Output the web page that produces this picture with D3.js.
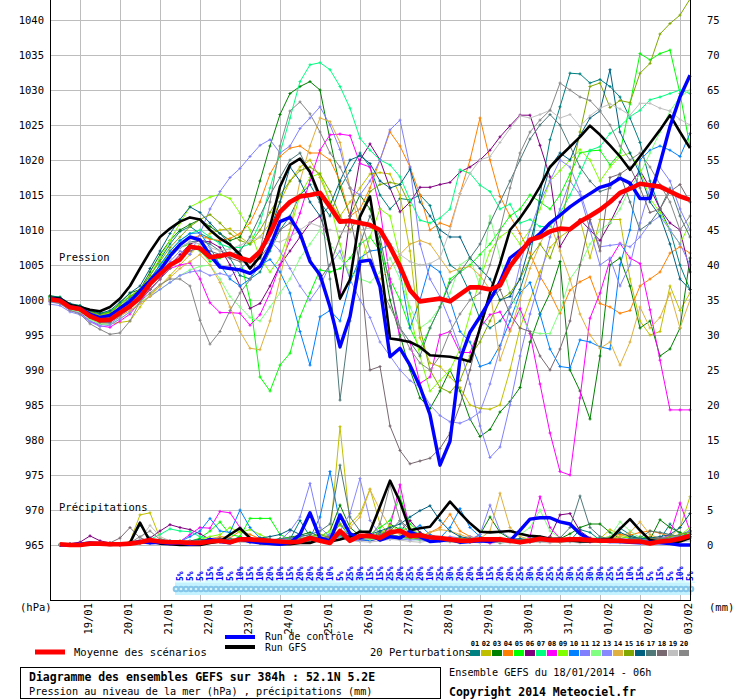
<!DOCTYPE html>
<html><head><meta charset="utf-8">
<script src="https://cdn.jsdelivr.net/npm/d3@7"></script>
<style>
body{margin:0;background:#fff}
svg{display:block}
text{font-family:"DejaVu Sans Mono","Liberation Mono",monospace;fill:#000}
</style>
</head><body>
<svg id="chart" width="740" height="700"></svg>
<script>
// ---------------- DATA ----------------
const dateLabels = ["19/01","20/01","21/01","22/01","23/01","24/01","25/01","26/01","27/01","28/01","29/01","30/01","31/01","01/02","02/02","03/02"];
const dateHours = [18,42,66,90,114,138,162,186,210,234,258,282,306,330,354,378];
const pressureTicks = [965,970,975,980,985,990,995,1000,1005,1010,1015,1020,1025,1030,1035,1040];
const precipTicks = [0,5,10,15,20,25,30,35,40,45,50,55,60,65,70,75];
const memberIds = ["01","02","03","04","05","06","07","08","09","10","11","12","13","14","15","16","17","18","19","20"];
const memberColors = ["#008080","#c0c000","#008000","#ff8000","#00ff00","#800080","#00ff80","#ff00ff","#80ff00","#0080ff","#8080ff","#80ff80","#8888ff","#e0b040","#80a800","#006080","#507878","#786870","#c0c0c0","#888888"];
const snowPct = [5,5,5,15,10,5,10,15,10,20,10,15,20,20,20,10,5,25,30,15,15,25,20,25,20,10,25,30,20,20,10,15,20,20,25,30,20,25,25,30,25,30,30,25,15,10,15,5,15,5,10,5];
const snowStartHour = 78;

// Pressure (hPa), every 6h from 18/01 06h (65 values)
const meanP = [1000.1,999.9,998.95,998.7,997.7,997.1,997.2,998.2,999.1,
 1000.4,1002.3,1003.7,1005.0,1005.8,1007.6,1007.4,1006.1,1006.3,1006.6,1006.0,1005.6,
 1006.9,1009.5,1012.6,1014.0,1014.8,1015.0,1015.3,1013.3,1011.2,1011.3,1011.0,1010.7,
 1010.0,1007.6,1004.8,1001.4,999.8,1000.0,1000.2,999.8,1000.8,1001.8,1001.8,1001.5,
 1002.1,1004.8,1006.7,1008.6,1009.0,1009.8,1010.2,1010.1,1011.2,1012.0,1012.9,1014.0,
 1015.3,1015.9,1016.6,1016.4,1016.2,1015.5,1014.8,1014.3];
const ctrlP = [1000.2,1000.0,999.0,998.8,998.0,997.5,997.8,998.8,999.8,
 1001.3,1002.8,1004.3,1006.3,1007.9,1009.0,1008.6,1006.4,1004.7,1004.5,1004.3,1003.8,
 1004.8,1007.6,1011.2,1011.8,1009.5,1005.5,1003.6,999.0,993.3,997.6,1005.5,1005.7,
 1001.9,991.9,993.1,990.7,987.6,983.6,976.4,979.8,991.5,995.4,997.6,1000.0,
 1002.6,1006.0,1007.1,1008.3,1009.5,1011.0,1012.1,1013.3,1014.3,1015.2,1016.1,1016.5,
 1017.4,1016.7,1014.5,1014.5,1019.5,1024.8,1029.0,1032.1];
const gfsP = [1000.3,1000.2,999.3,999.0,998.6,998.4,999.0,1000.2,1002.0,
 1004.5,1006.9,1009.0,1010.2,1011.2,1011.8,1011.5,1010.0,1008.8,1007.9,1006.5,1004.5,
 1006.2,1010.5,1016.2,1019.3,1020.2,1018.3,1014.8,1007.6,1000.2,1002.9,1011.9,1014.8,
 1006.0,994.5,994.3,994.0,993.3,992.1,992.0,991.9,991.6,991.2,996.0,1001.0,
 1005.2,1010.0,1011.7,1013.8,1016.2,1019.0,1020.5,1021.9,1023.3,1024.9,1023.6,1022.1,
 1020.5,1018.6,1020.5,1022.4,1024.3,1026.4,1024.0,1021.7];

const pert01P = [1000.4,1000.3,999.2,999.0,998.3,997.8,997.9,999.0,1000.3,
 1001.5,1003.5,1005.8,1008.0,1009.8,1010.5,1009.5,1008.8,1008.3,1006.0,1003.5,1003.0,
 1004.0,1007.0,1010.0,1012.0,1015.0,1016.5,1014.0,1012.0,1016.0,1018.5,1021.0,1019.0,
 1015.0,1013.0,1014.5,1014.3,1015.0,1013.5,1009.0,1005.0,1004.0,1001.0,997.3,996.0,
 997.0,999.0,1001.5,1006.0,1015.0,1022.9,1027.6,1032.4,1032.3,1031.0,1031.5,1030.5,
 1029.0,1026.0,1022.5,1017.0,1013.0,1010.0,1005.0,1001.5];
const pert02P = [1000.0,999.8,998.8,998.4,997.3,996.6,996.6,996.8,997.0,
 999.0,1000.8,1002.0,1003.5,1005.0,1006.5,1008.0,1009.5,1010.0,1010.2,1009.0,1008.0,
 1009.0,1011.0,1014.0,1017.0,1019.0,1020.0,1017.5,1014.0,1012.0,1014.0,1016.0,1018.0,
 1018.2,1018.0,1015.0,1007.0,994.6,991.0,990.5,989.0,987.5,985.0,984.5,984.4,
 985.0,990.0,996.0,1000.0,1004.0,1007.5,1009.0,1010.0,1011.5,1006.0,1011.5,1011.5,
 1011.5,1003.0,997.0,995.0,995.5,1002.0,998.5,1001.0];
const pert03P = [1000.5,1000.2,999.3,999.0,998.4,998.0,998.3,999.5,1001.0,
 1001.5,1004.0,1006.5,1008.5,1010.0,1010.8,1011.5,1010.5,1009.5,1008.5,1009.0,1012.0,
 1017.0,1022.0,1026.5,1029.5,1030.5,1031.2,1030.0,1022.9,1016.2,1012.0,1015.0,1013.0,
 1008.0,1000.0,995.0,990.0,986.0,984.5,987.0,990.0,987.0,983.0,980.5,981.5,
 984.0,985.5,987.5,994.0,998.0,1001.0,1005.5,990.0,987.0,983.0,992.0,1005.0,
 1006.0,1002.0,996.0,997.0,992.0,993.0,996.0,1006.0];
const pert04P = [1000.2,1000.0,999.1,998.8,997.9,997.4,997.5,998.6,999.8,
 1001.0,1003.0,1005.0,1006.8,1008.0,1008.8,1009.2,1008.7,1008.5,1008.8,1009.5,1011.0,
 1014.0,1018.0,1020.5,1021.7,1022.0,1021.0,1021.0,1020.0,1017.0,1012.0,1013.0,1016.0,
 1020.0,1024.0,1022.0,1019.0,1015.0,1010.0,1011.0,1010.5,1015.2,1020.0,1026.0,1020.0,
 1014.8,1012.0,1009.5,1006.7,1003.4,1001.0,998.1,1001.4,1002.6,1003.3,999.5,999.0,
 998.1,998.5,1002.0,1003.0,1004.0,1006.7,1007.6,1006.7];
const pert05P = [1000.6,1000.4,999.4,999.2,998.5,998.1,998.3,999.4,1000.6,
 1001.0,1003.0,1005.0,1006.5,1007.5,1008.0,1007.0,1005.5,1006.0,1006.5,1006.0,1000.0,
 989.0,987.0,990.7,992.4,997.6,1001.0,1004.3,1004.0,1004.5,1006.0,1008.0,1009.0,
 1007.0,1003.0,1000.0,996.0,993.0,996.0,999.0,1003.0,1004.0,1005.0,1006.5,1008.0,
 1010.0,1012.0,1013.0,1015.0,1014.0,1013.0,1015.0,1018.0,1021.0,1021.3,1021.4,1019.3,
 1021.0,1028.0,1035.2,1034.3,1035.2,1035.7,1029.5,1021.9];
const pert06P = [999.9,999.7,998.7,998.4,997.4,996.9,996.9,997.8,998.8,
 1000.0,1001.5,1003.0,1005.0,1006.5,1008.0,1008.5,1008.3,1007.5,1005.0,1002.0,998.8,
 999.5,1002.0,1005.0,1007.0,1009.0,1011.0,1012.0,1008.0,1000.5,1012.0,1020.0,1022.3,
 1020.0,1016.0,1012.6,1014.0,1016.1,1016.1,1016.5,1016.8,1018.3,1019.0,1020.0,1021.4,
 1023.3,1024.9,1026.4,1026.4,1022.1,1017.6,1007.6,1010.0,1011.5,1010.0,1008.5,1011.0,
 1014.0,1016.5,1018.5,1016.0,1013.0,1011.0,1010.0,1004.0];
const pert07P = [1000.3,1000.1,999.0,998.8,997.8,997.3,997.5,998.6,999.8,
 1001.0,1003.0,1005.0,1007.0,1008.5,1009.5,1010.0,1009.0,1008.0,1007.5,1007.5,1008.0,
 1011.0,1016.0,1021.0,1026.0,1031.2,1033.6,1033.9,1032.9,1030.5,1027.4,1023.1,1021.4,
 1020.0,1019.3,1017.6,1014.3,1011.4,1011.0,1011.7,1013.0,1018.6,1018.1,1016.4,1015.5,
 1013.0,1013.7,1011.0,1011.5,1010.5,1010.5,1012.4,1015.0,1018.1,1021.4,1021.9,1023.8,
 1024.8,1026.2,1027.1,1028.6,1029.0,1029.5,1030.0,1029.5];
const pert08P = [999.8,999.6,998.5,998.2,997.0,996.3,996.1,997.0,998.0,
 999.8,1001.5,1003.0,1004.5,1005.0,1005.3,1003.0,999.6,998.2,998.2,998.1,996.4,
 997.9,1001.0,1005.0,1008.6,1012.4,1017.1,1021.4,1023.6,1023.7,1023.5,1019.5,1019.0,
 1013.0,1003.0,994.3,994.0,988.1,989.0,995.0,995.5,992.5,992.5,996.0,997.9,
 998.3,995.7,998.8,995.2,988.0,981.0,975.5,975.0,986.0,997.4,1001.0,1005.7,
 1008.1,1006.0,1005.2,998.6,991.4,984.3,984.3,984.3];
const pert09P = [1000.4,1000.2,999.2,999.0,998.2,997.8,998.1,999.3,1000.6,
 1001.5,1003.5,1006.0,1008.5,1011.0,1013.3,1014.0,1014.7,1015.1,1014.5,1012.4,1010.0,
 1006.0,1004.0,1006.0,1010.0,1015.0,1017.5,1018.1,1014.0,1008.0,1003.0,1005.0,1009.0,
 1013.0,1012.0,1006.0,998.0,992.0,987.0,988.5,990.0,993.0,998.0,1003.0,1007.0,
 1009.0,1010.0,1008.0,1010.0,1013.0,1017.0,1018.5,1020.0,1021.5,1020.0,1017.0,1019.0,
 1020.5,1021.0,1018.6,1014.5,1012.5,1010.0,1008.0,1011.0];
const pert10P = [1000.3,1000.1,999.1,998.9,998.0,997.5,997.7,998.9,1000.2,
 1001.0,1003.0,1005.0,1007.0,1008.5,1009.5,1009.6,1007.5,1005.0,1003.0,1002.0,1003.0,
 1005.0,1005.8,1004.0,1001.0,995.5,990.7,997.6,998.5,997.0,1002.5,1006.0,1007.0,
 1007.2,1008.0,1004.0,996.0,1000.0,1005.0,1004.0,1000.0,995.5,994.0,990.5,991.0,
 993.5,997.0,1001.0,1002.5,998.0,993.0,990.5,990.3,994.3,994.0,993.3,993.0,
 1005.0,1010.0,1020.0,1021.4,1022.0,1021.4,1020.5,1023.8];
const pert11P = [999.7,999.5,998.6,998.1,997.0,996.5,996.6,997.6,998.8,
 1001.0,1002.5,1004.0,1005.5,1007.0,1006.5,1009.5,1013.0,1015.5,1017.5,1018.8,1020.5,
 1022.1,1022.9,1021.0,1022.0,1024.5,1026.0,1027.6,1025.0,1021.5,1016.0,1015.0,1017.0,
 1020.0,1024.3,1025.7,1019.0,1008.0,1003.0,1000.5,997.0,993.0,988.0,982.0,977.5,
 979.0,985.0,992.0,998.0,1003.0,1009.0,1013.0,1017.0,1015.0,1010.0,1005.0,1006.0,
 1002.0,1005.0,1011.0,1016.0,1019.0,1017.0,1013.0,1010.0];
const pert12P = [999.9,999.6,998.6,998.3,997.2,996.6,996.5,997.3,998.3,
 999.8,1000.5,1001.5,1002.5,1003.5,1004.3,1004.8,1005.0,1003.0,1000.5,999.0,997.5,
 997.0,999.0,1001.0,1003.0,1006.0,1008.0,1010.0,1008.0,1006.0,1004.0,1003.0,1002.5,
 1004.0,1006.0,1003.0,999.0,996.0,997.0,999.0,1001.0,1005.0,1006.0,1002.0,1012.0,
 1006.0,1001.0,998.0,995.5,995.2,995.2,998.5,1003.0,1005.0,1008.0,1010.0,1011.0,
 1013.0,1016.0,1018.0,1021.0,1024.0,1027.0,1029.0,1030.0];
const pert13P = [999.4,999.2,998.3,997.9,996.9,996.2,996.4,997.3,998.3,
 999.5,1000.5,1001.5,1002.5,1003.5,1004.0,1004.2,1003.5,1003.8,1003.4,1004.5,1005.5,
 1007.0,1008.5,1007.0,1004.5,1002.0,1000.0,1002.0,1005.0,1007.0,1003.0,1000.0,997.5,
 994.0,992.0,990.0,988.5,987.5,985.0,983.5,982.6,982.4,983.0,984.0,988.0,
 993.0,999.0,1005.0,1010.0,1014.0,1017.0,1020.0,1019.0,1015.5,1011.0,1007.6,1007.8,
 1008.0,1007.6,1009.0,1011.0,1012.0,1010.0,1008.0,1005.0];
const pert14P = [1000.0,999.8,998.8,998.5,997.5,996.9,996.9,997.7,998.5,
 999.5,1000.5,1002.0,1003.2,1004.5,1005.5,1006.5,1005.0,1002.5,999.0,995.5,993.1,
 992.9,997.0,1003.0,1010.0,1017.0,1022.0,1026.0,1025.5,1022.5,1016.0,1010.0,1005.0,
 1003.0,1004.5,1006.5,1008.0,1008.5,1008.0,1006.0,1004.0,1004.5,1004.8,1003.5,1001.5,
 991.4,995.5,1000.0,1004.5,1008.0,1011.0,1007.0,1003.0,998.0,995.0,993.1,994.0,
 990.7,994.0,999.0,996.0,997.5,1001.0,996.0,1000.0];
const pert15P = [1000.5,1000.3,999.3,999.1,998.3,997.9,998.2,999.3,1000.5,
 1001.5,1003.5,1005.5,1007.5,1009.0,1010.5,1011.5,1012.2,1011.0,1009.5,1008.5,1008.0,
 1010.0,1012.5,1015.0,1017.0,1018.5,1019.0,1018.0,1015.5,1012.0,1010.0,1012.0,1015.5,
 1016.5,1016.8,1016.5,1013.5,996.0,990.0,987.5,986.8,988.5,992.0,994.0,997.0,
 1000.0,1001.0,1003.0,1006.0,1008.0,1006.0,1010.0,1017.0,1024.0,1030.5,1031.0,1027.5,
 1028.5,1028.2,1032.4,1033.8,1038.0,1039.5,1040.7,1043.0];
const pert16P = [1000.6,1000.4,999.5,999.2,998.5,998.1,998.5,999.7,1001.0,
 1002.0,1004.5,1007.0,1009.5,1011.5,1013.3,1012.5,1011.0,1009.5,1008.0,1006.0,1004.5,
 1006.0,1010.0,1014.0,1019.0,1017.0,1014.0,1012.0,1013.5,1017.0,1020.0,1020.6,1019.5,
 1017.0,1016.0,1016.5,1018.7,1014.0,1012.0,1010.0,1009.0,1009.0,1006.0,1004.5,1003.0,
 1000.0,1000.5,1003.0,1008.0,1014.0,1019.0,1021.0,1020.0,1023.5,1026.0,1027.0,1032.9,
 1024.0,1021.0,1018.0,1014.0,1012.0,1008.0,1003.0,1001.5];
const pert17P = [1000.2,1000.0,998.9,998.7,997.7,997.2,997.3,998.4,999.5,
 1000.5,1002.0,1004.0,1006.0,1007.5,1008.3,1008.5,1008.0,1007.0,1006.5,1007.0,1009.0,
 1012.0,1015.0,1017.5,1020.0,1021.0,1018.0,1014.0,1003.0,985.7,997.0,1008.0,1012.0,
 1009.0,1002.0,996.0,994.0,992.0,996.0,999.0,1002.5,1004.0,1006.0,1008.0,1011.0,
 1014.0,1017.0,1020.0,1023.0,1025.0,1026.5,1025.0,1022.0,1019.0,1017.0,1015.5,1016.0,
 1018.0,1014.0,1010.0,1011.0,1013.0,1016.0,1012.0,1009.0];
const pert18P = [1000.1,999.8,998.9,998.5,997.5,996.8,996.8,997.8,999.0,
 1000.0,1001.5,1003.0,1004.5,1006.0,1007.0,1007.5,1007.0,1006.5,1006.0,1005.5,1005.3,
 1006.0,1008.0,1010.0,1011.0,1010.0,1006.0,1003.0,1005.0,1009.0,1012.0,1005.0,990.0,
 990.5,982.0,978.5,976.6,977.0,977.4,978.8,981.0,985.0,990.0,996.0,1000.0,
 1001.5,998.0,996.0,995.5,992.0,990.0,993.0,997.0,1005.0,1011.5,1007.0,1017.5,
 1018.0,1019.0,1016.0,1012.5,1013.0,1015.5,1016.5,1014.0];
const pert19P = [1000.2,1000.0,999.0,998.7,997.8,997.2,997.2,998.3,999.4,
 1000.8,1002.5,1004.5,1006.0,1007.5,1008.3,1008.0,1007.5,1007.0,1007.3,1007.8,1008.5,
 1009.0,1008.5,1008.3,1009.0,1010.0,1011.0,1010.5,1010.0,1009.8,1009.7,1010.0,1010.3,
 1009.9,1008.0,1006.5,1005.5,1005.0,1005.2,1006.0,1010.0,1015.2,1018.1,1020.0,1020.5,
 1022.5,1024.5,1026.3,1026.0,1026.5,1027.1,1026.0,1026.5,1024.8,1026.3,1027.4,1028.0,
 1027.3,1026.4,1028.1,1028.1,1027.4,1027.0,1025.8,1025.0];
const pert20P = [999.8,999.5,998.5,998.0,996.6,995.8,995.1,995.3,997.0,
 999.8,1001.0,1002.2,1003.0,1003.0,1002.0,997.1,993.7,995.5,998.5,1001.0,1002.9,
 1007.0,1014.0,1022.0,1027.0,1028.3,1026.6,1024.0,1021.0,1019.0,1016.0,1012.0,1007.0,
 1002.0,999.0,996.0,993.0,991.0,990.0,992.0,995.5,998.0,1000.0,1001.0,1005.0,
 1010.0,1016.0,1021.0,1024.0,1025.7,1027.1,1031.0,1030.0,1029.0,1028.5,1027.0,1025.0,
 1022.0,1020.0,1021.0,1019.0,1016.5,1014.0,1010.0,1012.0];

// Precipitation (mm per 6h), from 18/01 12h (64 values)
const meanR = [0.1,0.0,0.0,0.2,0.2,0.1,0.1,0.2, 0.4,0.7,0.5,0.4,0.4,0.3,0.3,0.5,
 0.6,0.4,0.8,0.8,0.7,0.6,0.5,0.4, 0.5,1.0,0.6,0.3,2.0,0.6,1.3,1.3,
 1.0,1.8,2.05,1.3,1.4,1.1,1.0,0.8, 0.6,0.6,0.8,0.8,0.8,0.6,0.4,0.6,
 0.9,0.7,0.7,0.8,0.8,0.7,0.6,0.6, 0.6,0.5,0.5,0.2,0.5,0.6,0.9,1.3];
const ctrlR = [0.0,0.0,0.1,0.3,0.2,0.1,0.1,0.2, 0.5,0.3,0.4,0.2,0.3,0.1,0.2,0.8,
 0.5,0.3,0.9,0.5,0.3,0.2,0.1,0.3, 1.5,4.6,1.0,0.6,4.3,1.6,1.0,1.5,
 0.7,1.2,1.0,1.9,1.2,0.5,0.6,0.8, 0.4,0.5,0.6,0.5,0.8,0.6,2.1,3.7,
 3.9,3.9,3.3,3.0,1.6,0.8,0.6,0.5, 0.5,0.4,0.3,0.4,0.3,0.2,0.0,0.0];
const gfsR = [0.1,0.0,0.0,0.2,0.1,0.0,0.1,0.3, 3.2,0.5,0.2,0.1,0.0,0.0,0.0,0.3,
 0.5,1.5,2.4,1.0,0.3,0.2,0.1,0.1, 0.3,0.3,0.8,0.5,0.8,1.2,1.9,1.9,
 5.5,9.2,6.2,2.1,2.4,2.6,4.4,6.2, 4.6,3.1,1.9,1.8,1.9,2.0,1.6,1.3,
 1.2,0.9,0.9,0.7,0.5,0.5,0.7,0.8, 2.3,3.7,2.1,0.7,0.5,0.3,0.5,1.0];

const rain01 = [0.1,0.0,0.0,0.2,0.3,0.2,0.0,0.3, 2.8,1.0,0.4,0.3,0.2,0.5,0.4,0.8, 0.9,0.6,1.2,0.5,0.3,0.4,0.6,0.8, 3.5,1.2,0.8,0.5,1.5,0.8,0.6,0.9, 1.8,1.2,0.8,1.0,1.4,0.9,0.7,0.5, 0.4,0.6,0.8,0.5,0.3,0.4,0.6,0.9, 1.2,0.8,0.5,0.6,2.2,1.8,0.7,0.5, 2.4,1.5,0.9,0.6,0.8,3.0,1.5,2.0];
const rain02 = [0.0,0.0,0.1,0.3,0.2,0.1,0.0,0.5, 4.3,4.6,1.0,0.3,0.2,0.4,0.3,0.6, 0.5,0.4,0.8,0.6,0.3,0.5,0.4,0.7, 1.0,0.8,1.5,1.2,16.9,3.0,4.5,8.0, 3.0,1.5,1.0,1.2,0.8,0.6,0.9,0.5, 0.3,0.4,0.6,0.5,1.0,0.8,0.6,0.5, 0.7,0.9,0.6,0.8,1.0,0.7,0.9,2.2, 1.5,1.0,0.8,1.2,0.9,1.1,2.5,6.9];
const rain03 = [0.0,0.1,0.0,0.1,0.2,0.1,0.1,0.2, 0.3,0.6,0.4,0.2,0.3,0.4,0.5,0.6, 0.8,0.5,0.7,0.4,0.3,0.6,0.9,1.1, 1.4,1.8,1.2,2.0,5.7,2.5,1.3,1.0, 0.8,3.0,2.2,1.2,0.9,0.6,0.8,0.7, 0.5,0.6,1.5,4.0,1.8,0.9,0.6,0.5, 0.8,0.7,0.9,1.6,2.5,3.0,3.0,1.8, 0.9,1.2,1.0,0.8,3.6,2.5,1.8,1.2];
const rain04 = [0.0,0.0,0.1,0.2,0.1,0.2,0.0,0.3, 0.4,0.7,0.3,0.2,0.3,0.5,0.4,0.6, 1.2,1.0,2.0,1.5,0.9,0.6,0.5,0.4, 0.6,0.5,0.8,1.0,1.5,0.9,0.7,1.2, 1.5,2.2,1.8,1.4,1.2,1.8,2.5,4.4, 2.0,1.2,0.9,0.6,0.5,0.4,0.6,0.8, 0.6,0.5,0.4,0.6,0.8,1.0,0.9,1.2, 1.5,1.4,1.8,2.0,1.7,1.2,0.8,1.0];
const rain05 = [0.1,0.0,0.0,0.1,0.2,0.2,0.1,0.2, 0.5,0.3,0.4,0.6,0.4,0.5,1.0,2.0, 3.3,1.5,1.2,3.8,3.8,3.8,1.5,0.8, 0.6,0.9,1.2,0.8,1.5,1.2,2.0,1.5, 2.5,3.5,6.9,3.0,1.8,1.2,0.9,0.7, 0.6,0.8,0.5,0.4,0.6,0.5,0.7,0.6, 0.9,0.8,0.6,0.5,0.7,0.9,1.0,0.8, 0.7,0.6,1.2,0.9,0.8,1.4,1.0,2.0];
const rain06 = [0.0,0.2,0.4,1.3,0.6,0.3,0.2,0.4, 0.6,1.0,2.0,2.9,2.5,2.2,1.6,0.8, 0.5,0.7,0.6,0.4,0.5,0.3,0.4,0.3, 0.5,0.8,0.6,1.5,1.2,0.9,0.7,0.6, 0.9,1.5,2.0,3.5,1.8,1.0,0.8,0.6, 0.5,0.4,0.6,0.3,0.4,0.5,0.3,0.4, 0.6,1.2,4.3,4.5,2.0,1.0,0.6,0.5, 0.4,0.6,0.5,0.7,0.5,0.6,0.9,1.5];
const rain07 = [0.0,0.0,0.1,0.2,0.3,0.2,0.1,0.3, 0.6,0.8,1.5,2.3,2.0,1.9,1.2,0.9, 0.7,0.8,0.6,0.5,0.4,0.6,0.5,0.7, 0.9,0.6,0.5,0.8,1.2,1.0,0.7,0.8, 1.0,1.2,2.5,2.0,1.5,1.0,0.8,0.6, 0.5,0.7,0.6,0.4,0.5,0.6,0.8,0.9, 0.7,0.6,0.5,0.8,0.6,0.5,0.4,0.6, 0.5,0.7,0.6,0.5,0.8,0.6,0.7,1.0];
const rain08 = [0.0,0.0,0.0,0.1,0.2,0.1,0.0,0.2, 0.3,0.5,0.4,0.3,0.5,1.5,2.5,2.4, 4.8,4.6,2.5,1.0,0.6,0.5,0.4,0.6, 0.8,1.0,0.6,0.8,2.0,1.2,0.9,1.0, 1.2,2.5,8.6,2.0,1.2,0.9,0.7,0.6, 0.5,0.6,0.4,0.3,0.5,0.6,0.4,1.2, 6.9,2.5,1.0,0.6,0.5,0.4,0.6,0.5, 0.4,0.5,0.6,0.7,0.8,1.5,6.0,2.0];
const rain09 = [0.0,0.1,0.0,0.2,0.1,0.2,0.1,0.2, 0.4,0.3,0.5,0.4,0.6,0.5,0.8,1.2, 1.5,2.5,1.8,2.2,1.5,0.8,0.6,0.5, 0.7,0.9,1.2,2.0,2.8,1.5,1.0,0.8, 1.5,2.8,2.0,2.5,1.5,1.2,0.9,0.7, 0.6,0.5,0.8,0.6,0.4,0.5,0.7,0.6, 0.8,1.0,0.6,0.5,0.7,0.8,0.6,0.9, 1.2,1.0,0.8,0.7,0.9,1.1,1.4,2.5];
const rain10 = [0.0,0.1,0.1,0.2,0.3,0.1,0.2,0.3, 0.5,0.6,0.8,0.6,0.5,1.2,2.0,3.8, 2.0,1.8,5.0,2.5,1.0,0.8,0.6,0.5, 0.8,1.0,4.0,10.5,3.0,1.2,0.8,0.6, 1.0,1.5,1.2,2.0,2.8,1.5,1.0,2.5, 5.2,2.5,1.2,0.8,0.6,0.5,0.4,0.6, 0.8,0.6,0.5,0.7,0.6,0.8,1.0,0.7, 0.6,0.5,0.8,0.6,0.5,0.7,0.9,1.2];
const rain11 = [0.1,0.0,0.0,0.2,0.1,0.1,0.0,0.2, 0.3,0.5,0.4,0.6,0.4,0.5,0.6,0.8, 1.0,0.7,0.8,0.6,0.5,0.4,0.6,2.0, 4.0,8.8,2.5,1.2,1.0,0.8,0.6,0.9, 1.0,0.8,1.2,0.9,0.7,0.6,0.8,1.2, 1.0,0.8,1.5,5.7,2.0,1.0,0.8,0.6, 0.5,0.4,0.6,0.8,0.7,0.6,0.5,0.7, 0.6,0.8,1.0,0.7,0.9,1.0,1.4,2.0];
const rain12 = [0.0,0.0,0.1,0.1,0.2,0.1,0.1,0.2, 0.3,0.4,0.3,0.5,0.6,0.4,0.5,0.6, 0.8,0.6,0.9,0.7,0.5,0.6,0.8,1.0, 1.2,1.5,1.0,1.8,3.0,1.5,1.0,0.8, 0.9,1.2,1.0,0.8,0.7,0.9,0.6,0.5, 0.6,0.8,0.7,0.5,0.6,0.9,1.5,2.5, 5.0,2.0,1.0,0.8,0.6,0.7,0.9,1.2, 3.3,2.0,1.0,0.8,0.9,0.7,1.0,1.5];
const rain13 = [0.0,0.1,0.0,0.1,0.2,0.1,0.2,0.1, 0.3,0.2,0.4,0.3,0.5,0.4,0.6,0.5, 0.7,0.9,0.6,0.8,0.5,0.6,0.7,0.9, 1.2,1.0,0.8,1.5,2.0,4.5,9.5,3.5, 1.5,1.0,0.9,0.7,0.8,0.6,0.5,0.7, 0.9,1.2,0.8,0.6,0.5,0.7,0.6,0.8, 0.6,0.5,0.7,0.9,1.0,0.8,0.6,0.7, 0.9,0.8,0.6,0.7,1.0,1.2,0.9,1.5];
const rain14 = [0.0,0.0,0.1,0.2,0.1,0.2,0.1,0.3, 0.5,0.4,0.3,0.4,0.6,0.5,0.7,0.9, 1.2,1.0,0.8,0.6,0.5,0.7,0.6,0.5, 0.8,1.0,1.2,0.9,1.5,2.5,4.0,7.9, 5.0,2.5,1.5,1.2,1.0,1.8,2.2,2.0, 1.5,1.0,0.9,2.0,7.4,2.5,1.2,0.8, 0.7,0.6,0.8,0.9,1.0,0.8,0.7,0.9, 1.2,1.8,3.3,1.5,0.9,0.8,1.0,1.2];
const rain15 = [0.1,0.0,0.0,0.2,0.3,0.1,0.1,0.2, 0.4,0.5,0.6,0.4,0.3,0.5,0.4,0.6, 0.8,0.6,0.7,0.5,0.6,0.4,0.5,0.7, 0.9,1.2,1.5,1.0,3.0,1.8,1.2,1.0, 2.0,1.5,1.2,1.0,0.9,0.8,0.7,0.9, 1.0,0.8,0.6,0.5,0.7,0.6,0.8,0.7, 0.9,1.0,0.8,0.6,0.5,0.7,0.9,1.0, 0.8,0.7,0.9,1.0,0.8,1.2,1.5,1.8];
const rain16 = [0.0,0.1,0.0,0.1,0.2,0.1,0.2,0.3, 0.5,0.4,0.3,0.5,0.4,0.6,0.8,0.7, 0.9,0.7,0.6,0.8,1.0,1.2,1.5,2.2, 1.5,1.2,1.0,0.8,1.5,1.2,1.0,1.5, 2.0,2.5,3.0,4.0,4.9,5.6,3.5,2.0, 1.2,0.9,0.8,0.7,0.6,0.8,0.9,0.7, 0.6,0.8,0.9,1.0,0.8,0.7,0.9,1.0, 1.8,1.2,0.9,1.0,1.2,1.5,2.5,4.5];
const rain17 = [0.0,0.0,0.1,0.2,0.1,0.2,0.1,0.2, 0.3,0.4,0.5,0.3,0.4,0.5,0.6,0.7, 0.8,0.9,0.7,0.6,0.8,0.7,0.9,1.0, 1.2,1.5,2.0,3.0,11.4,4.0,2.0,1.5, 1.2,2.0,3.5,2.2,1.5,1.0,0.8,0.7, 0.6,0.8,0.7,0.5,0.6,0.8,0.7,0.6, 0.8,0.9,1.0,2.5,7.0,2.5,1.2,0.8, 0.7,0.9,1.0,2.0,1.8,1.5,1.2,1.6];
const rain18 = [0.0,0.0,0.1,0.1,0.2,0.3,1.0,2.5, 1.0,0.6,0.4,0.3,0.5,0.4,0.6,0.5, 0.7,0.6,0.5,0.8,0.6,0.7,0.5,0.6, 0.8,1.0,0.9,1.2,2.0,1.5,1.0,1.2, 1.5,2.0,1.8,1.2,1.0,0.9,0.7,0.6, 0.5,0.7,0.6,0.5,0.4,0.6,0.5,0.7, 0.6,0.5,0.7,0.8,0.6,0.5,0.7,0.9, 0.8,0.7,0.6,0.8,1.0,0.9,1.2,1.5];
const rain19 = [0.0,0.0,0.1,0.1,0.2,0.2,0.1,0.3, 0.8,2.8,1.2,0.6,0.4,0.5,0.3,0.4, 0.5,0.6,0.4,0.3,0.5,0.4,0.3,0.5, 0.6,0.4,0.5,0.7,0.9,0.6,0.5,0.4, 0.6,0.8,0.7,0.5,0.4,0.6,0.5,0.4, 0.3,0.4,0.3,0.5,0.4,0.3,0.4,0.5, 0.4,0.3,0.5,0.4,0.3,0.4,0.5,0.4, 0.3,0.4,0.5,0.4,0.3,0.5,0.4,0.6];
const rain20 = [0.0,0.0,0.1,0.2,0.1,0.1,0.2,0.3, 1.2,2.0,0.8,0.5,0.4,0.3,0.5,0.6, 0.4,0.5,0.6,0.4,0.5,0.3,0.4,0.6, 0.8,0.6,0.7,0.9,1.5,1.0,0.8,1.2, 3.0,8.6,3.5,1.5,1.0,0.8,0.6,0.5, 0.4,0.5,0.6,0.4,0.5,0.6,0.5,0.4, 0.5,0.6,0.4,0.5,0.6,0.5,0.7,0.6, 0.5,0.4,0.6,0.5,0.7,0.8,0.9,1.2];

// ---------------- BUILD ----------------
const pertP = [pert01P,pert02P,pert03P,pert04P,pert05P,pert06P,pert07P,pert08P,pert09P,pert10P,
               pert11P,pert12P,pert13P,pert14P,pert15P,pert16P,pert17P,pert18P,pert19P,pert20P];
const pertR = [rain01,rain02,rain03,rain04,rain05,rain06,rain07,rain08,rain09,rain10,
               rain11,rain12,rain13,rain14,rain15,rain16,rain17,rain18,rain19,rain20];
const hoursP = d3.range(0, 385, 6);
const hoursR = d3.range(6, 385, 6);

const svg = d3.select("#chart");
const x = d3.scaleLinear().domain([0, 384]).range([50, 690]);
const yP = d3.scaleLinear().domain([965, 1040]).range([545, 20]);
const yR = d3.scaleLinear().domain([0, 75]).range([545, 20]);

// grid
const grid = svg.append("g").attr("stroke", "#bdbdbd").attr("stroke-width", 1).attr("shape-rendering", "crispEdges");
grid.selectAll("line.h").data(pressureTicks).join("line")
  .attr("x1", 50).attr("x2", 690)
  .attr("y1", d => Math.round(yP(d)) + 0.5).attr("y2", d => Math.round(yP(d)) + 0.5);
grid.selectAll("line.v").data(dateHours).join("line")
  .attr("x1", d => Math.round(x(d)) + 0.5).attr("x2", d => Math.round(x(d)) + 0.5)
  .attr("y1", 0).attr("y2", 600);

// snow probability strip
const snowHours = snowPct.map((p, k) => snowStartHour + 6 * k);
const strip = svg.append("g");
strip.selectAll("rect.hill").data(snowPct).join("rect")
  .attr("x", (d, k) => x(snowHours[k]) - 5).attr("width", 10)
  .attr("y", d => 583 - d * 0.3).attr("height", d => d * 0.3)
  .attr("fill", "#d6fbff");
strip.append("rect").attr("x", x(snowStartHour) - 5).attr("y", 583).attr("width", x(384) - x(snowStartHour) + 7).attr("height", 12).attr("fill", "#c4f2ff");
const flakeHours = d3.range(snowStartHour - 2.4, 386, 3);
strip.selectAll("circle.f").data(flakeHours).join("circle")
  .attr("cx", d => x(d)).attr("cy", 589).attr("r", 3.3).attr("fill", "#84c6ea");
strip.selectAll("circle.g").data(flakeHours).join("circle")
  .attr("cx", d => x(d)).attr("cy", 589).attr("r", 1.3).attr("fill", "#d8f4ff");
strip.selectAll("text").data(snowPct).join("text")
  .attr("transform", (d, k) => `translate(${x(snowHours[k]) + 3},581) rotate(-90)`)
  .attr("font-size", 8).attr("font-weight", "bold").style("fill", "#0000ff")
  .text(d => d + "%");

// line generators
const lineP = d3.line().x((d, i) => x(hoursP[i])).y(d => yP(d));
const lineR = d3.line().x((d, i) => x(hoursR[i])).y(d => yR(d));

function drawMember(vals, hours, yS, color, gen) {
  const g = svg.append("g");
  g.append("path").attr("d", gen(vals)).attr("fill", "none").attr("stroke", color).attr("stroke-width", 1);
  g.append("path").attr("fill", "none").attr("stroke", color).attr("stroke-width", 1)
    .attr("d", vals.map((v, i) => {
      const px = x(hours[i]), py = yS(v);
      return `M${px - 1.5},${py}h3M${px},${py - 1.5}v3`;
    }).join(""));
}
pertP.forEach((vals, m) => drawMember(vals, hoursP, yP, memberColors[m], lineP));
pertR.forEach((vals, m) => drawMember(vals, hoursR, yR, memberColors[m], lineR));

// main runs
function drawMain(vals, gen, color, w) {
  svg.append("path").attr("d", gen(vals)).attr("fill", "none")
    .attr("stroke", color).attr("stroke-width", w).attr("stroke-linejoin", "round");
}
drawMain(gfsP, lineP, "#000000", 2.6);
drawMain(gfsR, lineR, "#000000", 2.6);
drawMain(ctrlP, lineP, "#0000ff", 3.4);
drawMain(ctrlR, lineR, "#0000ff", 3.4);
drawMain(meanP, lineP, "#ff0000", 4.6);
drawMain(meanR, lineR, "#ff0000", 4.6);

// frame
const frame = svg.append("g").attr("stroke", "#000").attr("stroke-width", 1).attr("shape-rendering", "crispEdges");
frame.append("line").attr("x1", 50.5).attr("x2", 50.5).attr("y1", 0).attr("y2", 600);
frame.append("line").attr("x1", 690.5).attr("x2", 690.5).attr("y1", 0).attr("y2", 600);
frame.append("line").attr("x1", 50).attr("x2", 691).attr("y1", 600.5).attr("y2", 600.5);

// axis labels
svg.append("g").selectAll("text").data(pressureTicks).join("text")
  .attr("x", 44).attr("y", d => yP(d) + 4).attr("text-anchor", "end").attr("font-size", 10.5)
  .text(d => d);
svg.append("g").selectAll("text").data(precipTicks).join("text")
  .attr("x", 707).attr("y", d => yR(d) + 4).attr("font-size", 10.5)
  .text(d => d);
svg.append("g").selectAll("text").data(dateLabels).join("text")
  .attr("transform", (d, k) => `translate(${x(dateHours[k]) + 12},603) rotate(-90)`)
  .attr("text-anchor", "end").attr("font-size", 10.5)
  .text(d => d);
svg.append("text").attr("x", 20).attr("y", 611).attr("font-size", 10.5).text("(hPa)");
svg.append("text").attr("x", 709).attr("y", 611).attr("font-size", 10.5).text("(mm)");
svg.append("text").attr("x", 59).attr("y", 261).attr("font-size", 10.5).text("Pression");
svg.append("text").attr("x", 59).attr("y", 511).attr("font-size", 10.5).text("Précipitations");

// legend
svg.append("line").attr("x1", 35).attr("x2", 65).attr("y1", 652).attr("y2", 652).attr("stroke", "#ff0000").attr("stroke-width", 5);
svg.append("text").attr("x", 74).attr("y", 656).attr("font-size", 10.5).text("Moyenne des scénarios");
svg.append("line").attr("x1", 225).attr("x2", 255).attr("y1", 637).attr("y2", 637).attr("stroke", "#0000ff").attr("stroke-width", 4);
svg.append("text").attr("x", 265).attr("y", 639.5).attr("font-size", 9.8).text("Run de contrôle");
svg.append("line").attr("x1", 225).attr("x2", 255).attr("y1", 647).attr("y2", 647).attr("stroke", "#000000").attr("stroke-width", 4);
svg.append("text").attr("x", 265).attr("y", 651).attr("font-size", 9.8).text("Run GFS");
svg.append("text").attr("x", 370).attr("y", 656).attr("font-size", 10.5).text("20 Perturbations");
const lg = svg.append("g");
lg.selectAll("rect").data(memberColors).join("rect")
  .attr("x", (d, k) => 470 + 11 * k).attr("y", 650).attr("width", 10).attr("height", 6).attr("fill", d => d);
lg.selectAll("text").data(memberIds).join("text")
  .attr("x", (d, k) => 470 + 11 * k + 5).attr("y", 646).attr("text-anchor", "middle")
  .attr("font-size", 7).attr("font-weight", "bold")
  .text(d => d);

// bottom info
svg.append("rect").attr("x", 20.5).attr("y", 667.5).attr("width", 420).attr("height", 31).attr("fill", "none").attr("stroke", "#000");
svg.append("text").attr("x", 29).attr("y", 681).attr("font-size", 11.5).attr("font-weight", "bold")
  .text("Diagramme des ensembles GEFS sur 384h : 52.1N 5.2E");
svg.append("text").attr("x", 29).attr("y", 695).attr("font-size", 10.2)
  .text("Pression au niveau de la mer (hPa) , précipitations (mm)");
svg.append("text").attr("x", 449).attr("y", 676).attr("font-size", 10.2).text("Ensemble GEFS du 18/01/2014 - 06h");
svg.append("text").attr("x", 449).attr("y", 696).attr("font-size", 11.5).attr("font-weight", "bold").text("Copyright 2014 Meteociel.fr");
</script>
</body></html>
